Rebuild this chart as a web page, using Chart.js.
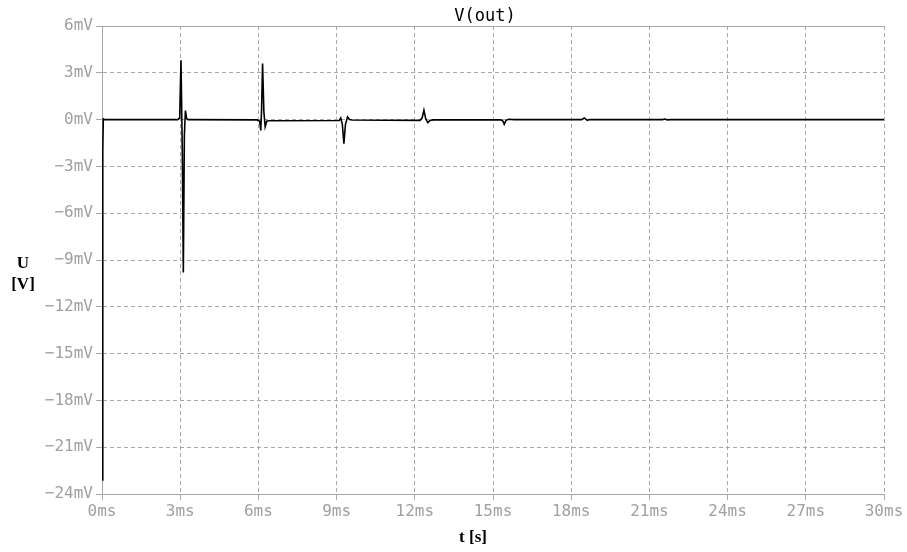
<!DOCTYPE html>
<html>
<head>
<meta charset="utf-8">
<script src="https://cdn.jsdelivr.net/npm/chart.js@4/dist/chart.umd.min.js"></script>
<style>
  html, body { margin: 0; padding: 0; background: #ffffff; }
  #wrap { width: 907px; height: 552px; }
</style>
</head>
<body>
<div id="wrap"><canvas id="c" width="907" height="552"></canvas></div>
<script>
// ---- data (time in ms, voltage in mV) ----
const chartTitle = "V(out)";
const xAxisTitle = "t [s]";
const yAxisTitleLines = ["U", "[V]"];

const timeMs = [
  0, 0.03, 0.05, 0.1,
  2.9, 2.98, 3.03, 3.08, 3.12, 3.16, 3.2, 3.25, 3.3,
  5.95, 6.05, 6.09, 6.12, 6.16, 6.21, 6.26, 6.32, 6.4,
  9.1, 9.16, 9.22, 9.28, 9.34, 9.42, 9.5, 9.6,
  12.2, 12.28, 12.35, 12.42, 12.5, 12.58, 12.7,
  15.3, 15.38, 15.43, 15.5, 15.6, 15.8,
  18.4, 18.5, 18.55, 18.62, 18.7,
  21.5, 21.6, 21.68, 21.8,
  30
];
const voltageMv = [
  -23.1, -2, 0.05, 0,
  0, 0.1, 3.8, -2, -9.8, -1, 0.58, 0.05, 0,
  -0.02, -0.1, -0.7, 0.5, 3.6, 0.5, -0.45, -0.1, -0.07,
  -0.06, 0.1, -0.3, -1.55, -0.3, 0.17, 0.0, -0.03,
  -0.05, 0.1, 0.6, 0.05, -0.2, -0.05, -0.02,
  -0.02, -0.1, -0.3, -0.05, 0.02, 0,
  0, 0.1, 0.05, -0.05, 0,
  0, 0.04, -0.02, 0,
  0
];

const xMin = 0, xMax = 30, xStep = 3;
const yMin = -24, yMax = 6, yStep = 3;

const points = timeMs.map((t, i) => ({ x: t, y: voltageMv[i] }));

const gridGray = "#a8a8a8";
const labelGray = "#a0a0a0";

const textPlugin = {
  id: "textPlugin",
  afterDraw(chart) {
    const ctx = chart.ctx;
    const a = chart.chartArea;
    ctx.save();
    // solid top frame line
    ctx.strokeStyle = gridGray;
    ctx.lineWidth = 1;
    ctx.beginPath();
    ctx.moveTo(a.left, Math.round(a.top) + 0.5);
    ctx.lineTo(a.right, Math.round(a.top) + 0.5);
    ctx.stroke();
    // title
    ctx.fillStyle = "#000000";
    ctx.textAlign = "center";
    ctx.textBaseline = "middle";
    ctx.font = "17px 'DejaVu Sans Mono'";
    ctx.fillText(chartTitle, 485, 17);
    // axis titles
    ctx.font = "bold 17px 'Liberation Serif'";
    ctx.fillText(xAxisTitle, 473, 538);
    ctx.fillText(yAxisTitleLines[0], 23, 264);
    ctx.fillText(yAxisTitleLines[1], 23, 285);
    ctx.restore();
  }
};

new Chart(document.getElementById("c"), {
  type: "line",
  data: {
    datasets: [{
      data: points,
      borderColor: "#000000",
      borderWidth: 1.6,
      pointRadius: 0,
      tension: 0,
      fill: false
    }]
  },
  options: {
    responsive: false,
    animation: false,
    layout: { padding: { top: 26, right: 23, left: 0, bottom: 0 } },
    plugins: {
      legend: { display: false },
      tooltip: { enabled: false },
      title: { display: false }
    },
    scales: {
      x: {
        type: "linear",
        min: xMin, max: xMax,
        afterFit(scale) { scale.height = 58; },
        ticks: {
          stepSize: xStep,
          color: labelGray,
          font: { family: "'DejaVu Sans Mono'", size: 16 },
          padding: 2,
          maxRotation: 0,
          callback: (v) => v + "ms"
        },
        grid: {
          color: gridGray,
          tickBorderDash: [],
          tickLength: 6,
          tickColor: gridGray,
          drawTicks: true
        },
        border: { display: true, color: gridGray, width: 1, dash: [4, 3] }
      },
      y: {
        type: "linear",
        min: yMin, max: yMax,
        afterFit(scale) { scale.width = 102; },
        ticks: {
          stepSize: yStep,
          color: labelGray,
          font: { family: "'DejaVu Sans Mono'", size: 16 },
          padding: 3,
          callback: (v) => (v < 0 ? "\u2212" + Math.abs(v) : String(v)) + "mV"
        },
        grid: {
          color: gridGray,
          tickBorderDash: [],
          tickLength: 6,
          tickColor: gridGray,
          drawTicks: true
        },
        border: { display: true, color: gridGray, width: 1, dash: [4, 3] }
      }
    }
  },
  plugins: [textPlugin]
});
</script>
</body>
</html>
